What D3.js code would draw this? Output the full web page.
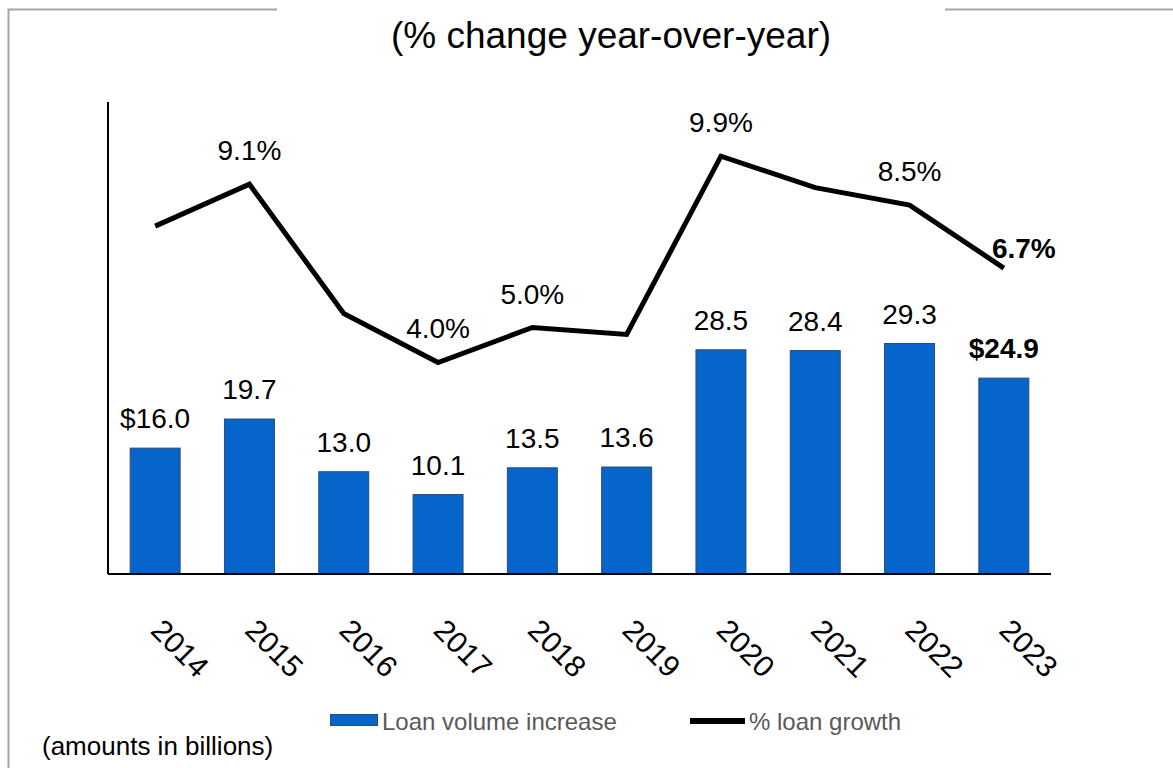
<!DOCTYPE html>
<html><head><meta charset="utf-8">
<script src="https://cdn.jsdelivr.net/npm/d3@7"></script>
<style>body{margin:0;background:#fff;font-family:"Liberation Sans",Arial,sans-serif;}</style>
</head><body>
<svg id="c" width="1173" height="768"></svg>
<script>
const years = ["2014","2015","2016","2017","2018","2019","2020","2021","2022","2023"];
const loanVolume = [16.0,19.7,13.0,10.1,13.5,13.6,28.5,28.4,29.3,24.9];
const volumeLabels = ["$16.0","19.7","13.0","10.1","13.5","13.6","28.5","28.4","29.3","$24.9"];
const loanGrowth = [7.9,9.1,5.4,4.0,5.0,4.8,9.9,9.0,8.5,6.7];
const growthLabels = ["","9.1%","","4.0%","5.0%","","9.9%","","8.5%","6.7%"];
const title = "(% change year-over-year)";
const footnote = "(amounts in billions)";
const legendLabels = ["Loan volume increase","% loan growth"];

const svg = d3.select("#c");
const font = '"Liberation Sans",Arial,sans-serif';
const L=108,R=1051,T=102,B=574;
const x = d3.scaleBand().domain(years).range([L,R]).paddingInner(0.47).paddingOuter(0.235);
const y = d3.scaleLinear().domain([0,60]).range([B,T]);
const y2 = d3.scaleLinear().domain([-2.05,11.45]).range([B,T]);
const blue="#0565CB";
const cx = d => x(d)+x.bandwidth()/2;

// frame
svg.append("path").attr("d","M277,9.5H8.5V768").attr("fill","none").attr("stroke","#a6a6a6").attr("stroke-width",2);
svg.append("path").attr("d","M945,9.5H1173").attr("fill","none").attr("stroke","#a6a6a6").attr("stroke-width",2);

svg.append("text").attr("x",611).attr("y",48).attr("text-anchor","middle").attr("font-family",font).attr("font-size",37).text(title);

// bars
svg.selectAll("rect.bar").data(years).enter().append("rect").attr("class","bar")
  .attr("x",d=>x(d)).attr("width",x.bandwidth())
  .attr("y",(d,i)=>y(loanVolume[i])).attr("height",(d,i)=>B-y(loanVolume[i]))
  .attr("fill",blue).attr("stroke","#2c4a7c").attr("stroke-width",1);

svg.selectAll("text.bl").data(years).enter().append("text").attr("class","bl")
  .attr("x",cx).attr("y",(d,i)=>y(loanVolume[i])-20)
  .attr("text-anchor","middle").attr("font-family",font).attr("font-size",28)
  .attr("font-weight",(d,i)=>i===9?"bold":"normal").text((d,i)=>volumeLabels[i]);

// axes
const ax = d3.axisBottom(x).tickSize(0).tickFormat("");
svg.append("g").attr("transform",`translate(0,${B})`).call(ax).select(".domain").attr("stroke","#000").attr("stroke-width",2).attr("d",`M${L},0H${R}`);
svg.append("line").attr("x1",L).attr("x2",L).attr("y1",T).attr("y2",B).attr("stroke","#000").attr("stroke-width",2);

svg.selectAll("text.yr").data(years).enter().append("text").attr("class","yr")
  .attr("transform",d=>`translate(${cx(d)-6},${632}) rotate(45)`)
  .attr("font-family",font).attr("font-size",30).text(d=>d);

// line
const line = d3.line().x((d,i)=>cx(years[i])).y(d=>y2(d));
svg.append("path").datum(loanGrowth).attr("d",line).attr("fill","none").attr("stroke","#000").attr("stroke-width",5);

svg.selectAll("text.gl").data(years).enter().append("text").attr("class","gl")
  .attr("x",(d,i)=>i===9?cx(d)+20:cx(d))
  .attr("y",(d,i)=>i===9?y2(loanGrowth[i])-10:y2(loanGrowth[i])-24)
  .attr("text-anchor","middle").attr("font-family",font).attr("font-size",28)
  .attr("font-weight",(d,i)=>i===9?"bold":"normal").text((d,i)=>growthLabels[i]);

// legend
svg.append("rect").attr("x",330.5).attr("y",714.5).attr("width",47).attr("height",11).attr("fill",blue).attr("stroke","#2c4a7c");
svg.append("text").attr("x",382).attr("y",730).attr("font-family",font).attr("font-size",24).attr("fill","#595959").text(legendLabels[0]);
svg.append("line").attr("x1",690).attr("x2",745).attr("y1",721).attr("y2",721).attr("stroke","#000").attr("stroke-width",6);
svg.append("text").attr("x",749).attr("y",730).attr("font-family",font).attr("font-size",24).attr("fill","#595959").text(legendLabels[1]);

svg.append("text").attr("x",42).attr("y",755).attr("font-family",font).attr("font-size",26).text(footnote);
</script>
</body></html>
